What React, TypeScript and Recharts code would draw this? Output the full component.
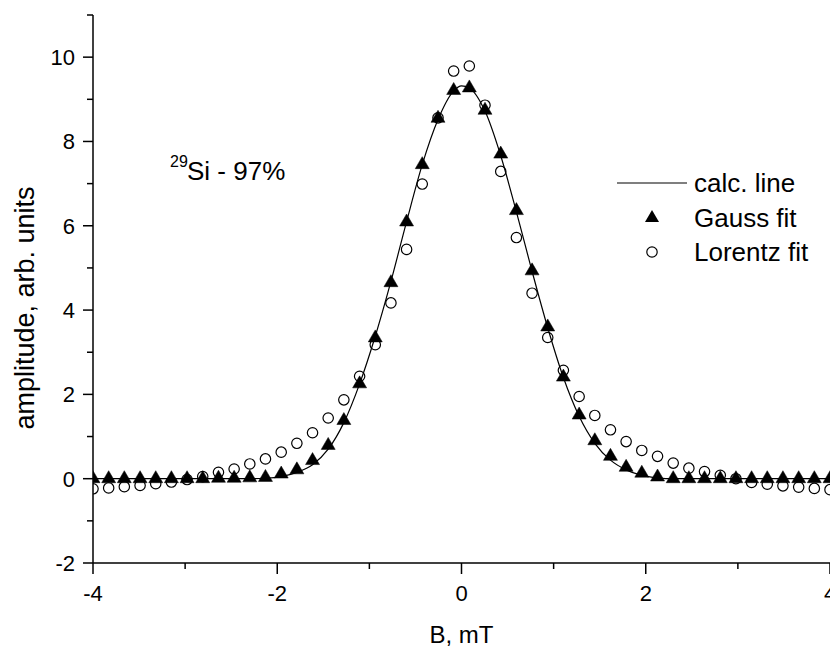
import React from "react";
import { ComposedChart, XAxis, YAxis, Scatter, Line, Label } from "recharts";

// Magnetic field positions (mT)
const bValues = [
  -4.0, -3.83, -3.66, -3.489, -3.319, -3.149, -2.979, -2.809, -2.638, -2.468,
  -2.298, -2.128, -1.957, -1.787, -1.617, -1.447, -1.277, -1.106, -0.936, -0.766,
  -0.596, -0.426, -0.255, -0.085, 0.085, 0.255, 0.426, 0.596, 0.766, 0.936,
  1.106, 1.277, 1.447, 1.617, 1.787, 1.957, 2.128, 2.298, 2.468, 2.638,
  2.809, 2.979, 3.149, 3.319, 3.489, 3.66, 3.83, 4.0,
];

// Gauss fit (triangles)
const gaussValues = [
  0.0, 0.0, 0.0, 0.0, 0.0, 0.0, 0.0, 0.0, 0.01, 0.01,
  0.02, 0.03, 0.11, 0.21, 0.43, 0.79, 1.38, 2.25, 3.34, 4.65,
  6.09, 7.45, 8.55, 9.21, 9.27, 8.74, 7.70, 6.36, 4.93, 3.60,
  2.41, 1.51, 0.90, 0.53, 0.27, 0.13, 0.04, 0.0, 0.0, 0.0,
  0.0, 0.0, 0.0, 0.0, 0.0, 0.0, 0.0, 0.0,
];

// Lorentz fit (open circles)
const lorentzValues = [
  -0.24, -0.22, -0.19, -0.16, -0.12, -0.08, -0.02, 0.05, 0.15, 0.23,
  0.35, 0.47, 0.63, 0.84, 1.09, 1.44, 1.87, 2.43, 3.18, 4.17,
  5.44, 6.99, 8.56, 9.67, 9.79, 8.86, 7.29, 5.72, 4.40, 3.35,
  2.57, 1.95, 1.50, 1.16, 0.88, 0.67, 0.53, 0.37, 0.25, 0.17,
  0.08, 0.0, -0.09, -0.13, -0.17, -0.20, -0.23, -0.26,
];

// Calculated line
const calcB = [
  -4.0, -3.149, -2.298, -2.128, -1.957, -1.787, -1.617, -1.447, -1.277, -1.106,
  -0.936, -0.766, -0.596, -0.426, -0.255, -0.085, 0.0, 0.085, 0.255, 0.426,
  0.596, 0.766, 0.936, 1.106, 1.277, 1.447, 1.617, 1.787, 1.957, 2.128,
  2.298, 3.149, 4.0,
];
const calcValues = [
  0.0, 0.0, 0.0, 0.01, 0.05, 0.15, 0.33, 0.70, 1.33, 2.25,
  3.38, 4.68, 6.10, 7.45, 8.52, 9.20, 9.32, 9.27, 8.72, 7.66,
  6.33, 4.92, 3.58, 2.40, 1.48, 0.84, 0.44, 0.21, 0.08, 0.02,
  0.0, 0.0, 0.0,
];

const xTicks = [-4, -3, -2, -1, 0, 1, 2, 3, 4];
const yTicks = [-2, -1, 0, 1, 2, 3, 4, 5, 6, 7, 8, 9, 10, 11];

const xAxisTitle = "B, mT";
const yAxisTitle = "amplitude, arb. units";
const legendLabels = ["calc. line", "Gauss fit", "Lorentz fit"];

const gaussData = bValues.map((x, i) => ({ x, y: gaussValues[i] }));
const lorentzData = bValues.map((x, i) => ({ x, y: lorentzValues[i] }));
const calcData = calcB.map((x, i) => ({ x, y: calcValues[i] }));

const FONT = "'Liberation Sans', Arial, Helvetica, sans-serif";
const W = 830;
const H = 639;

const XTick = (props: any) => {
  const { x, y, payload } = props;
  const v = payload.value;
  const major = Math.abs(v) % 2 === 0;
  return (
    <g>
      <line x1={x} x2={x} y1={y} y2={y + (major ? 11 : 6)} stroke="#000" strokeWidth={1.5} />
      {major && (
        <text x={x} y={y + 38} textAnchor="middle" fontSize={22} fontFamily={FONT} fill="#000">
          {String(v)}
        </text>
      )}
    </g>
  );
};

const YTick = (props: any) => {
  const { x, y, payload } = props;
  const v = payload.value;
  const major = Math.abs(v) % 2 === 0;
  return (
    <g>
      <line x1={x} x2={x - (major ? 10 : 6)} y1={y} y2={y} stroke="#000" strokeWidth={1.5} />
      {major && (
        <text x={x - 18} y={y} dy="0.36em" textAnchor="end" fontSize={22} fontFamily={FONT} fill="#000">
          {String(v)}
        </text>
      )}
    </g>
  );
};

const TriangleShape = (props: any) => {
  const { cx, cy } = props;
  if (cx == null || cy == null) return null;
  const hw = 7;
  return (
    <polygon
      points={`${cx},${cy - 8} ${cx - hw},${cy + 4} ${cx + hw},${cy + 4}`}
      fill="#000"
      stroke="#000"
      strokeWidth={0.5}
    />
  );
};

const CircleShape = (props: any) => {
  const { cx, cy } = props;
  if (cx == null || cy == null) return null;
  return <circle cx={cx} cy={cy} r={5.2} fill="none" stroke="#000" strokeWidth={1.2} />;
};

export default function App() {
  return (
    <div style={{ position: "relative", width: W, height: H, background: "#fff" }}>
      <ComposedChart width={W} height={H} margin={{ top: 7, right: 8, bottom: 0, left: 0 }}>
        <XAxis
          type="number"
          dataKey="x"
          domain={[-4, 4]}
          ticks={xTicks}
          interval={0}
          allowDataOverflow
          height={84}
          tickLine={false}
          tickSize={0}
          tickMargin={0}
          axisLine={{ stroke: "#000", strokeWidth: 1.5 }}
          tick={<XTick />}
        >
          <Label
            value={xAxisTitle}
            position="insideBottom"
            offset={4}
            fontSize={24}
            fontFamily={FONT}
            fill="#000"
          />
        </XAxis>
        <YAxis
          type="number"
          dataKey="y"
          domain={[-2, 11]}
          ticks={yTicks}
          interval={0}
          allowDataOverflow
          width={85}
          tickLine={false}
          tickSize={0}
          tickMargin={0}
          axisLine={{ stroke: "#000", strokeWidth: 1.5 }}
          tick={<YTick />}
        />
        <Scatter data={lorentzData} shape={<CircleShape />} isAnimationActive={false} />
        <Line
          data={calcData}
          dataKey="y"
          type="monotone"
          stroke="#000"
          strokeWidth={1.2}
          dot={false}
          activeDot={false}
          isAnimationActive={false}
        />
        <Scatter data={gaussData} shape={<TriangleShape />} isAnimationActive={false} />
      </ComposedChart>
      <svg
        width={W}
        height={H}
        style={{ position: "absolute", left: 0, top: 0, pointerEvents: "none" }}
      >
        <text
          transform="translate(18,300) rotate(-90)"
          textAnchor="middle"
          dy="0.3em"
          fontSize={27}
          fontFamily={FONT}
          fill="#000"
        >
          {yAxisTitle}
        </text>
        <text x={162} y={159} fontSize={16} fontFamily={FONT} fill="#000">
          29
        </text>
        <text x={179} y={172} fontSize={26} fontFamily={FONT} fill="#000">
          Si - 97%
        </text>
        {/* legend */}
        <line x1={609} x2={679} y1={175} y2={175} stroke="#000" strokeWidth={1.2} />
        <text x={686} y={175} dy="0.35em" fontSize={26} fontFamily={FONT} fill="#000">
          {legendLabels[0]}
        </text>
        <polygon points="644,202 637,214 651,214" fill="#000" />
        <text x={686} y={210} dy="0.35em" fontSize={26} fontFamily={FONT} fill="#000">
          {legendLabels[1]}
        </text>
        <circle cx={644} cy={244} r={5.2} fill="none" stroke="#000" strokeWidth={1.2} />
        <text x={686} y={244} dy="0.35em" fontSize={26} fontFamily={FONT} fill="#000">
          {legendLabels[2]}
        </text>
      </svg>
    </div>
  );
}
